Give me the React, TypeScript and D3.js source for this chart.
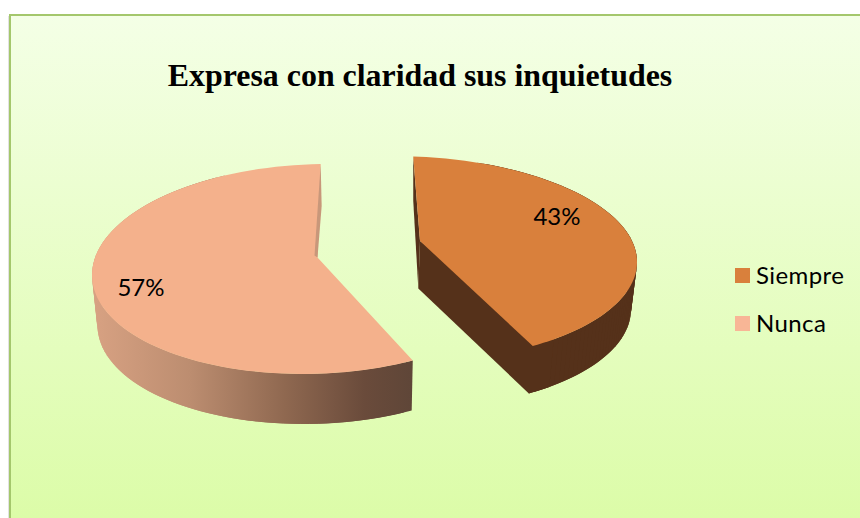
import React from "react";
import * as d3 from "d3";

const title = "Expresa con claridad sus inquietudes";
const categories = ["Siempre", "Nunca"];
const values = [43, 57];
const labels = ["43%", "57%"];
const topColors = ["#D9803C", "#F4B18C"];
const legendColors = ["#D9803C", "#F8B696"];

// Screen geometry of each exploded, perspective-drawn slice
const geometry = [
  { cx: 400, cy: 259, ax: 237, ay: 103, tilt: 0.03, phi0: -86.8, gain: 0.922, apex: [420, 241], depth: 47.5, vanish: 335, labelAt: [557, 225] },
  { cx: 315, cy: 269, ax: 223, ay: 105, tilt: -0.057, phi0: 64, gain: 1.011, apex: [317.5, 257.5], depth: 50, vanish: 360, labelAt: [141, 296] },
];
const wallStops = [
  [0, "#D7A182"],
  [0.3, "#BC8D70"],
  [0.6, "#8F6850"],
  [0.85, "#6A4B3B"],
  [1, "#5F4638"],
];

const pie = d3.pie<number>().sort(null);
const arcs = pie(values);
const line = d3.line<number[]>().x((p) => p[0]).y((p) => p[1]);
const steps = 90;

function rim(i: number): number[][] {
  const g = geometry[i];
  const a = arcs[i];
  return d3.range(steps + 1).map((k) => {
    const ang = a.startAngle + ((a.endAngle - a.startAngle) * k) / steps;
    const phi = ((g.phi0 + ((ang - a.startAngle) * 180 * g.gain) / Math.PI) * Math.PI) / 180;
    return [g.cx + g.ax * Math.cos(phi), g.cy + g.ay * Math.sin(phi + g.tilt)];
  });
}
function lower(i: number, p: number[]): number[] {
  const g = geometry[i];
  return [g.vanish + (p[0] - g.vanish) * 0.98, p[1] + g.depth];
}
const closed = (pts: number[][]) => (line(pts) as string) + "Z";

// Outer wall swept quad by quad, so the silhouette keeps its straight tangents
function wallQuads(i: number, pts: number[][], fill: string) {
  return d3.range(pts.length - 2).map((k) => (
    <path
      key={k}
      d={closed([pts[k], pts[k + 2], lower(i, pts[k + 2]), lower(i, pts[k])])}
      fill={fill}
    />
  ));
}

export default function App() {
  const rimS = rim(0);
  const rimN = rim(1);
  const apS = geometry[0].apex;
  const apN = geometry[1].apex;
  const startS = rimS[0];
  const endS = rimS[rimS.length - 1];
  const nearEndS = rimS[rimS.length - 5];
  const endN = rimN[rimN.length - 1];

  return (
    <svg width={860} height={518} style={{ position: "absolute", left: 0, top: 0, display: "block" }}>
      <defs>
        <linearGradient id="bg" x1="0" y1="0" x2="0" y2="1">
          <stop offset="0" stopColor="#F4FFE6" />
          <stop offset="1" stopColor="#DBFCA6" />
        </linearGradient>
        <linearGradient id="wallN" gradientUnits="userSpaceOnUse" x1={95} y1={0} x2={412} y2={0}>
          {wallStops.map(([o, c]) => (
            <stop key={String(o)} offset={o as number} stopColor={c as string} />
          ))}
        </linearGradient>
      </defs>
      <rect x={0} y={0} width={860} height={518} fill="#fff" />
      <rect x={8} y={16} width={1} height={502} fill="#E2E2E2" />
      <rect x={10} y={15} width={860} height={520} fill="url(#bg)" stroke="#A4C76C" strokeWidth={2} />

      <text
        x={420}
        y={86}
        textAnchor="middle"
        fontFamily="'Liberation Serif', serif"
        fontWeight="bold"
        fontSize={31.9}
        fill="#000"
      >
        {title}
      </text>

      {/* Nunca */}
      {wallQuads(1, rimN.slice(0, steps - 10), "url(#wallN)")}
      <path d={closed([...rimN, apN])} fill={topColors[1]} />
      <path
        d={closed([endN, [endN[0] + 1, endN[1] + 42], apN, [apN[0] - 3, apN[1] - 2]])}
        fill="#C8977A"
      />

      {/* Siempre */}
      {wallQuads(0, rimS.slice(10), "#55311A")}
      <path
        d={closed([apS, nearEndS, lower(0, nearEndS), lower(0, endS), lower(0, apS)])}
        fill="#55311A"
      />
      <path d={closed([startS, apS, lower(0, apS), [startS[0], startS[1] + 44]])} fill="#55311A" />
      <path d={closed([...rimS, apS])} fill={topColors[0]} />

      {labels.map((t, i) => (
        <text
          key={t}
          x={geometry[i].labelAt[0]}
          y={geometry[i].labelAt[1]}
          textAnchor="middle"
          fontFamily="Lato, sans-serif"
          fontSize={24}
          fill="#000"
        >
          {t}
        </text>
      ))}

      {categories.map((c, i) => (
        <g key={c} transform={`translate(735,${268 + i * 48})`}>
          <rect width={15} height={15} fill={legendColors[i]} />
          <text x={21} y={16} fontFamily="Lato, sans-serif" fontSize={24} letterSpacing={0.4} fill="#000">
            {c}
          </text>
        </g>
      ))}
    </svg>
  );
}
